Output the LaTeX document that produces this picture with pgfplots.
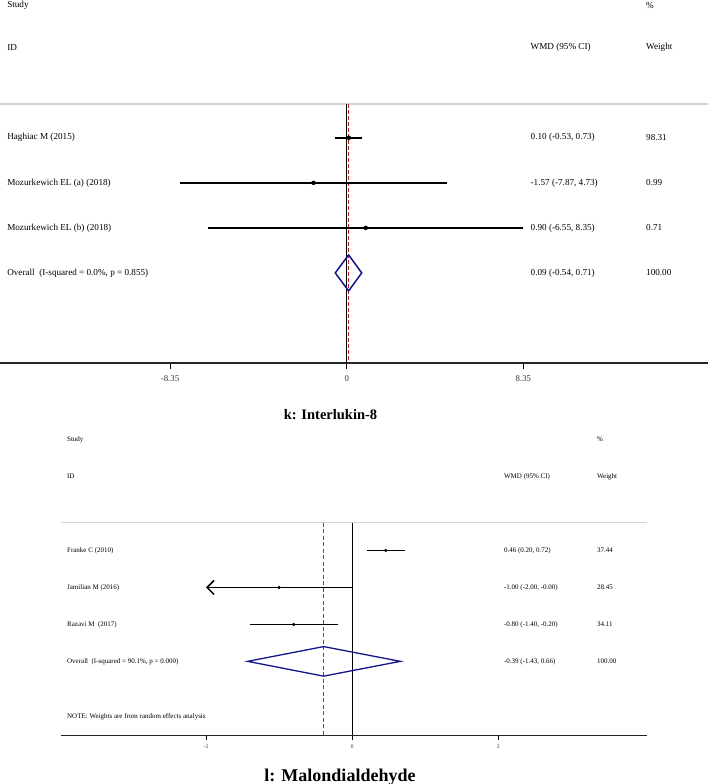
\documentclass[border=0pt]{standalone}
\usepackage{fontspec}
\setmainfont{Liberation Serif}
\usepackage{pgfplots}
\pgfplotsset{compat=1.18}
\usepackage{pgfplotstable}
\usetikzlibrary{arrows.meta}

\definecolor{diamblue}{RGB}{20,20,140}
\definecolor{refred}{RGB}{178,34,34}
\definecolor{refredb}{RGB}{195,40,40}
\definecolor{hdrgray}{RGB}{212,212,212}

% row, estimate, lower, upper
\pgfplotstableread{
row est lo hi
1 0.10 -0.53 0.73
2 -1.57 -7.87 4.73
3 0.90 -6.55 8.35
}\ilstudies
\pgfplotstableread{
row est lo hi
1 0.46 0.20 0.72
2 -1.00 -2.00 -0.00
3 -0.80 -1.40 -0.20
}\mdastudies

\newcommand{\ta}{\fontsize{9.15}{11}\selectfont}
\newcommand{\tb}{\fontsize{7}{8.5}\selectfont}

\pgfplotsset{forest/.style={
    scale only axis, clip=false,
    axis x line=bottom, axis y line=none,
    ymin=-6, ymax=-0.25,
    tick align=outside,
    major tick style={black},
    ytick=\empty,
}}

\begin{document}
\begin{tikzpicture}
\path[use as bounding box] (0pt,0pt) rectangle (708pt,-784pt);

% k: Interlukin-8
\begin{axis}[forest,
    at={(0pt,-363pt)}, anchor=south west,
    width=708pt, height=259pt,
    xmin=-16.385, xmax=17.075,
    xtick={-8.35,0,8.35}, xticklabels={-8.35,0,8.35},
    major tick length=6pt,
    axis line style={-, line width=1.5pt, black!85},
    major tick style={line width=1pt},
    xticklabel style={font=\fontsize{8.8}{10}\selectfont, black!80, yshift=-3pt}]
  \addplot[hdrgray, line width=1.5pt] coordinates {(-16.385,-0.25) (17.075,-0.25)};
  \addplot[black, line width=1.3pt] coordinates {(0,-0.25) (0,-6)};
  \addplot[refred, line width=1.2pt, dash pattern=on 4pt off 2pt] coordinates {(0.09,-0.25) (0.09,-6)};
  \addplot[black, only marks, mark=*, mark size=2pt, mark options={fill=black},
      error bars/.cd, x dir=both, x explicit, error mark=none,
      error bar style={line width=2pt, black}]
    table[x=est, y expr=-\thisrow{row},
      x error plus expr=\thisrow{hi}-\thisrow{est},
      x error minus expr=\thisrow{est}-\thisrow{lo}] {\ilstudies};
  \addplot[diamblue, line width=1.5pt] coordinates {(-0.54,-4) (0.09,-3.6) (0.71,-4) (0.09,-4.4)} --cycle;

  \begin{scope}[every node/.style={anchor=west, font=\ta, inner sep=0pt}]
  \node at (axis cs:-16.05,1.93) {Study};
  \node at (axis cs:14.145,1.93) {\%};
  \node at (axis cs:-16.05,1) {ID};
  \node at (axis cs:8.686,1) {WMD (95\% CI)};
  \node at (axis cs:14.145,1) {Weight};
  \node at (axis cs:-16.05,-1) {Haghiac M (2015)};
  \node at (axis cs:8.686,-1) {0.10 (-0.53, 0.73)};
  \node at (axis cs:14.145,-1) {98.31};
  \node at (axis cs:-16.05,-2) {Mozurkewich EL (a) (2018)};
  \node at (axis cs:8.686,-2) {-1.57 (-7.87, 4.73)};
  \node at (axis cs:14.145,-2) {0.99};
  \node at (axis cs:-16.05,-3) {Mozurkewich EL (b) (2018)};
  \node at (axis cs:8.686,-3) {0.90 (-6.55, 8.35)};
  \node at (axis cs:14.145,-3) {0.71};
  \node at (axis cs:-16.05,-4) {Overall\ \ (I-squared = 0.0\%, p = 0.855)};
  \node at (axis cs:8.686,-4) {0.09 (-0.54, 0.71)};
  \node at (axis cs:14.145,-4) {100.00};
  \end{scope}
\end{axis}

% l: Malondialdehyde
\begin{axis}[forest,
    at={(61.4pt,-735.3pt)}, anchor=south west,
    width=585.1pt, height=212.6pt,
    xmin=-3.98, xmax=4.03,
    xtick={-2,0,2}, xticklabels={-2,0,2},
    major tick length=5pt,
    axis line style={-, line width=1.3pt, black!85},
    major tick style={line width=0.8pt},
    xticklabel style={font=\fontsize{5.5}{6.5}\selectfont, black!80, yshift=-1pt}]
  \addplot[hdrgray, line width=1.3pt] coordinates {(-3.98,-0.25) (4.03,-0.25)};
  \addplot[black, line width=1.1pt] coordinates {(0,-0.25) (0,-6)};
  \addplot[refredb, line width=1.3pt, dash pattern=on 4pt off 2.5pt] coordinates {(-0.39,-0.25) (-0.39,-6)};
  \addplot[black, only marks, mark=*, mark size=1.4pt, mark options={fill=black},
      error bars/.cd, x dir=both, x explicit, error mark=none,
      error bar style={line width=1.5pt, black}]
    table[x=est, y expr=-\thisrow{row},
      x error plus expr=\thisrow{hi}-\thisrow{est},
      x error minus expr=\thisrow{est}-\thisrow{lo}] {\mdastudies};
  \addplot[black, line width=1.5pt, -{Straight Barb[length=7pt, width=14pt]}] coordinates {(-1.5,-2) (-2.00,-2)};
  \addplot[diamblue, line width=1.3pt] coordinates {(-1.43,-4) (-0.39,-3.6) (0.66,-4) (-0.39,-4.4)} --cycle;

  \begin{scope}[every node/.style={anchor=west, font=\tb, inner sep=0pt}]
  \node at (axis cs:-3.904,2) {Study};
  \node at (axis cs:3.351,2) {\%};
  \node at (axis cs:-3.904,1) {ID};
  \node at (axis cs:2.078,1) {WMD (95\% CI)};
  \node at (axis cs:3.351,1) {Weight};
  \node at (axis cs:-3.904,-1) {Franke C (2010)};
  \node at (axis cs:2.078,-1) {0.46 (0.20, 0.72)};
  \node at (axis cs:3.351,-1) {37.44};
  \node at (axis cs:-3.904,-2) {Jamilian M (2016)};
  \node at (axis cs:2.078,-2) {-1.00 (-2.00, -0.00)};
  \node at (axis cs:3.351,-2) {28.45};
  \node at (axis cs:-3.904,-3) {Razavi M\ \ (2017)};
  \node at (axis cs:2.078,-3) {-0.80 (-1.40, -0.20)};
  \node at (axis cs:3.351,-3) {34.11};
  \node at (axis cs:-3.904,-4) {Overall\ \ (I-squared = 90.1\%, p = 0.000)};
  \node at (axis cs:2.078,-4) {-0.39 (-1.43, 0.66)};
  \node at (axis cs:3.351,-4) {100.00};
  \node at (axis cs:-3.904,-5.5) {NOTE: Weights are from random effects analysis};
  \end{scope}
\end{axis}

\node[anchor=base, font=\bfseries\fontsize{14.5}{16}\selectfont] at (330.5pt,-419pt) {k: Interlukin-8};
\node[anchor=base, font=\bfseries\fontsize{18}{20}\selectfont] at (340pt,-781pt) {l: Malondialdehyde};
\end{tikzpicture}
\end{document}
